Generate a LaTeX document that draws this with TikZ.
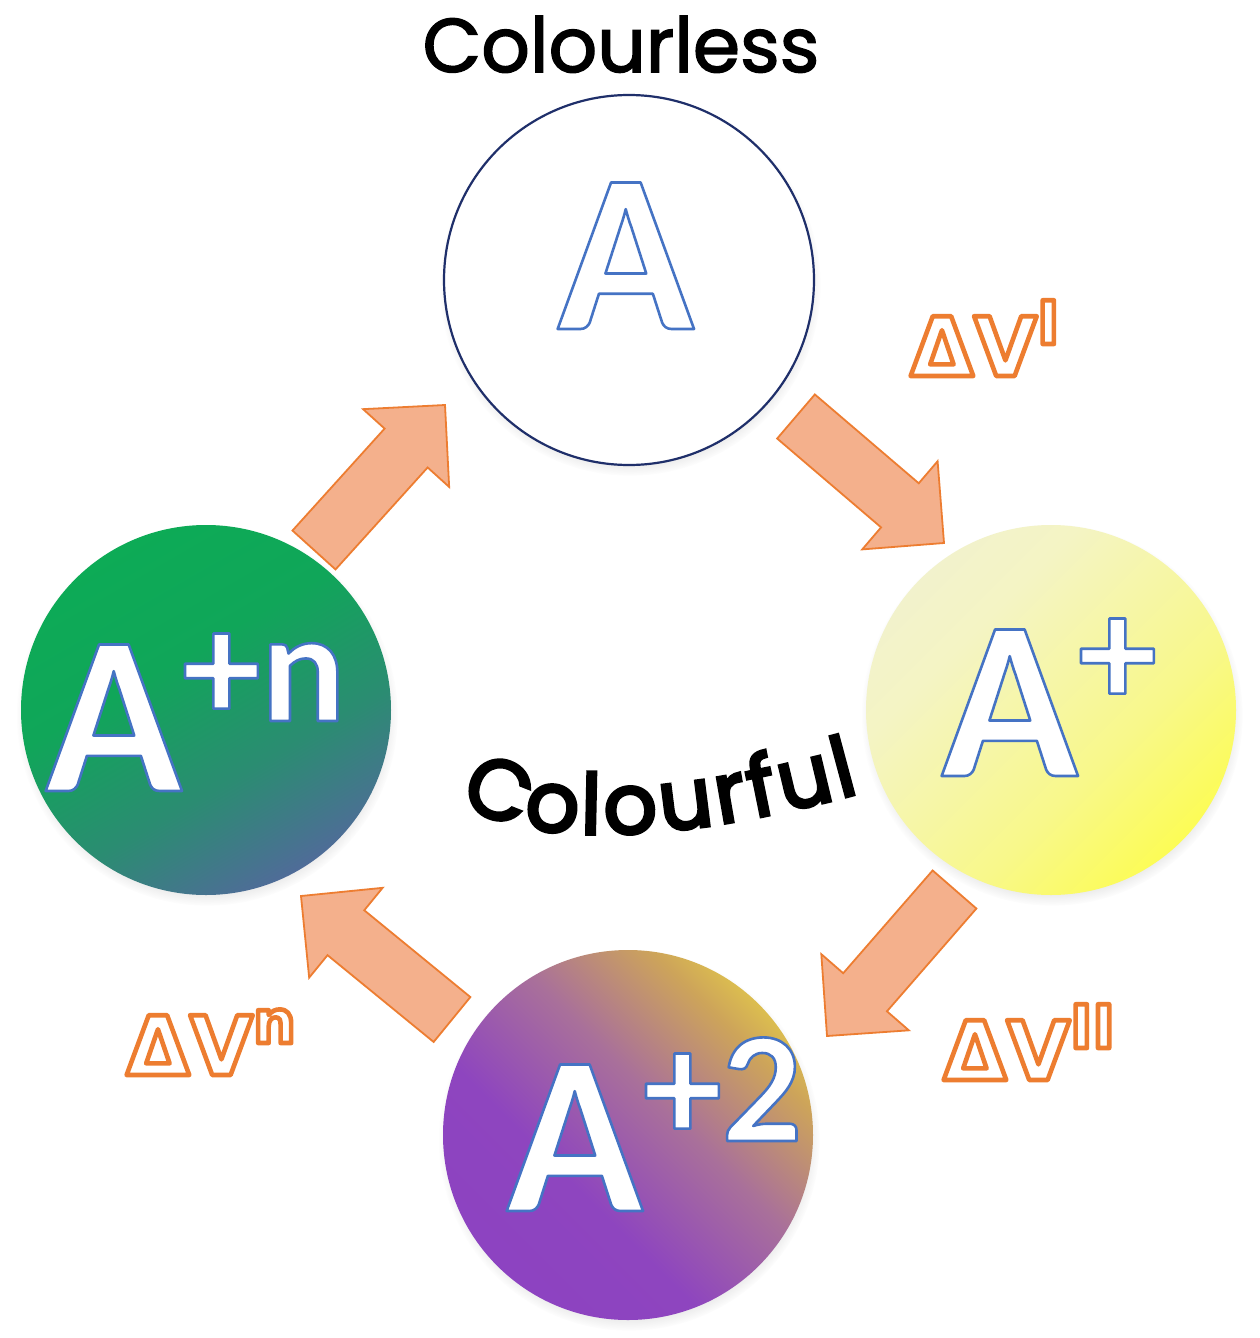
\documentclass[tikz,border=0pt]{standalone}
\usepackage{fontspec}
\setmainfont{Poppins}
\newfontfamily\titlefont{Poppins}[FakeBold=2]
\newfontfamily\curvefont{Poppins}[FakeBold=4]
\newfontfamily\letterfont{Carlito}
\newfontfamily\deltafont{DejaVu Sans}
\usetikzlibrary{calc,shadows,decorations.text}

\definecolor{arrowfill}{HTML}{F4B08C}
\definecolor{arrowline}{HTML}{ED7D31}
\definecolor{navy}{HTML}{1F2F6A}
\definecolor{yA}{HTML}{FFFF30}
\definecolor{yB}{HTML}{F8F88A}
\definecolor{yC}{HTML}{F4F4C4}
\definecolor{yD}{HTML}{EDEDE0}
\definecolor{gA}{HTML}{6E58B4}
\definecolor{gB}{HTML}{4F6C98}
\definecolor{gC}{HTML}{2B8C72}
\definecolor{gD}{HTML}{10A659}
\definecolor{gE}{HTML}{08B252}
\definecolor{pA}{HTML}{8A3FC4}
\definecolor{pB}{HTML}{8E45BF}
\definecolor{pC}{HTML}{A9709A}
\definecolor{pD}{HTML}{CDA45A}
\definecolor{pE}{HTML}{F6EA3C}

\pgfdeclareradialshading{whiteball}{\pgfpoint{0bp}{0bp}}{color(0bp)=(white); color(30bp)=(white); color(45bp)=(black!6); color(50bp)=(black!14)}
\pgfdeclareverticalshading{yellowball}{100bp}{color(0bp)=(yA); color(14bp)=(yA); color(40bp)=(yB); color(65bp)=(yC); color(100bp)=(yD)}
\pgfdeclareverticalshading{greenball}{100bp}{color(0bp)=(gA); color(10bp)=(gA); color(25bp)=(gB); color(40bp)=(gC); color(58bp)=(gD); color(100bp)=(gE)}
\pgfdeclareverticalshading{purpleball}{100bp}{color(0bp)=(pA); color(40bp)=(pB); color(56bp)=(pC); color(70bp)=(pD); color(84bp)=(pE); color(100bp)=(pE)}

% outlined text: stroke colour (rgb), stroke width, text
\newcommand\outlinetext[3]{\special{pdf:literal direct #1 RG #2 w 1 j 2 Tr}#3\special{pdf:literal direct 0 Tr}}

\newcommand\blockarrow[2]{%
  \coordinate (J) at ($(#2)!58pt!(#1)$);
  \filldraw[bigarrow] ($(#1)!29pt!90:(#2)$) -- ($(J)!29pt!90:(#2)$) -- ($(J)!58pt!90:(#2)$)
    -- (#2) -- ($(J)!58pt!-90:(#2)$) -- ($(J)!29pt!-90:(#2)$) -- ($(#1)!29pt!-90:(#2)$) -- cycle;}

\tikzset{
  ball/.style={circle, minimum size=370pt, inner sep=0pt,
    circular drop shadow={shadow xshift=1pt, shadow yshift=-5pt, shadow scale=1.03, opacity=0.35}},
  bigarrow/.style={fill=arrowfill, draw=arrowline, line width=1.8pt, line join=miter},
  letter/.style={anchor=base west, inner sep=0pt, text=white,
    font=\letterfont\bfseries\fontsize{226}{226}\selectfont},
  dvlabel/.style={anchor=base west, inner sep=0pt, text=white,
    font=\deltafont\bfseries\fontsize{82}{82}\selectfont},
  title/.style={anchor=base, inner sep=0pt, font=\titlefont\fontsize{76}{76}\selectfont}
}

\newcommand\letters[1]{\outlinetext{0.27 0.45 0.77}{2.6}{#1}}
\newcommand\sups[1]{\raisebox{70pt}{\fontsize{158}{158}\selectfont #1}}
\newcommand\dv[1]{\outlinetext{0.93 0.49 0.19}{4.6}{ΔV\raisebox{32pt}{\fontsize{60}{60}\selectfont #1}}}

\begin{document}
\begin{tikzpicture}[x=1pt,y=-1pt]
\useasboundingbox (0,0) rectangle (1259,1338);
\fill[white] (0,0) rectangle (1259,1338);

% balls
\node[ball, shade, shading=whiteball, draw=navy, line width=2.2pt] (cA) at (629,280) {};
\node[ball, shade, shading=yellowball, shading angle=45] (cAp) at (1051,710) {};
\node[ball, shade, shading=purpleball, shading angle=-45] (cA2) at (628,1135) {};
\node[ball, shade, shading=greenball, shading angle=30] (cAn) at (206,710) {};

% letters
\node[letter] (tA) at (557,329) {\letters{A}};
\node[letter] (tAp) at (941,776) {\letters{A\sups{+}}};
\node[letter] (tA2) at (506,1211) {\letters{A\sups{+2}}};
\node[letter] (tAn) at (45,791) {\letters{A\sups{+n}}};

% arrows
\coordinate (a1s) at (796,416.5); \coordinate (a1e) at (944,543);
\coordinate (a3s) at (954.5,889.5); \coordinate (a3e) at (827,1036);
\coordinate (a4s) at (452,1019.5); \coordinate (a4e) at (301,896);
\coordinate (a2s) at (314,550); \coordinate (a2e) at (445,405);
\blockarrow{a1s}{a1e}
\blockarrow{a3s}{a3e}
\blockarrow{a4s}{a4e}
\blockarrow{a2s}{a2e}

% labels
\node[dvlabel] (dv1) at (910,376) {\dv{I}};
\node[dvlabel] (dv2) at (943,1080) {\dv{II}};
\node[dvlabel] (dvn) at (126,1075) {\dv{n}};

\node[title] (colourless) at (621,72) {Colourless};
\path[decorate, decoration={text along path, text align=fit to path,
  text={|\curvefont\fontsize{84}{84}\selectfont|Colourful}}]
  (460,802) .. controls (520,845) and (660,848) .. (860,793);
\end{tikzpicture}
\end{document}
